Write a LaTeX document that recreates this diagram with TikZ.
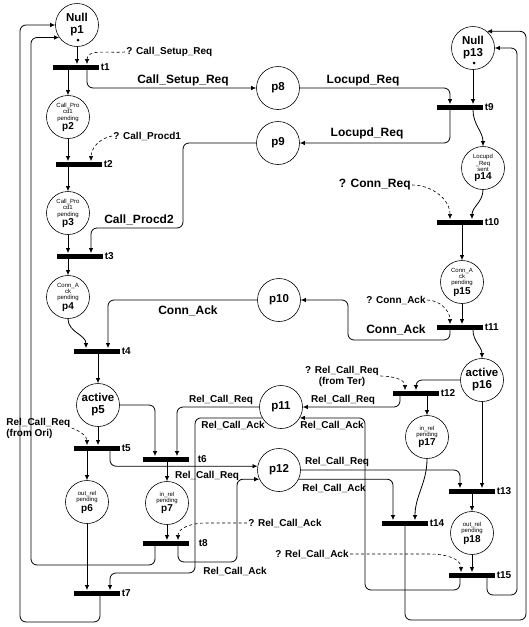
\documentclass[tikz,border=0pt]{standalone}
\usepackage{fontspec}
\setmainfont{Liberation Sans}
\usetikzlibrary{arrows.meta}
\newcommand{\pnum}[1]{{\bfseries\fontsize{10}{10}\selectfont #1}}

\begin{document}
\begin{tikzpicture}[>={Latex[length=5pt,width=4.5pt]}, x=10pt, y=-10pt, line width=0.8pt,
    place/.style={draw, circle, line width=0.6pt, minimum size=43pt, inner sep=0pt, align=center, font=\bfseries\fontsize{11.5}{12}\selectfont},
    pend/.style={place, font=\fontsize{6}{6.5}\selectfont},
    trans/.style={fill=black, minimum width=46pt, minimum height=5pt, inner sep=0pt},
    tname/.style={anchor=west, inner sep=1pt, font=\bfseries\fontsize{10}{10}\selectfont},
    msg/.style={inner sep=1pt, align=center, font=\bfseries\fontsize{10}{11}\selectfont},
    bigmsg/.style={inner sep=1pt, font=\bfseries\fontsize{12}{12}\selectfont},
    wire/.style={->, rounded corners=6pt},
    ask/.style={->, dash pattern=on 3pt off 2.5pt, line width=0.6pt}]
    \useasboundingbox (0,0) rectangle (52.8,62.7);

    % Places, originating side
    \node[place] (p1) at (7.7,2.5) {Null\\p1};
    \fill (p1.center) ++(0.1,1.5) circle (1.5pt);
    \node[pend] (p2) at (6.8,11.7) {Call\_Pro\\cd1\\pending\\ \pnum{p2}};
    \node[pend] (p3) at (6.8,21.3) {Call\_Pro\\cd1\\pending\\ \pnum{p3}};
    \node[pend] (p4) at (6.8,29.7) {Conn\_A\\ck\\pending\\ \pnum{p4}};
    \node[place] (p5) at (9.8,40.5) {active\\p5};
    \node[pend] (p6) at (8.7,50.2) {out\_rel\\pending\\ \pnum{p6}};
    \node[pend] (p7) at (16.7,50.3) {in\_rel\\pending\\ \pnum{p7}};

    % Channel places
    \node[place] (p8) at (27.8,8.8) {p8};
    \node[place] (p9) at (27.8,14.3) {p9};
    \node[place] (p10) at (27.9,30.0) {p10};
    \node[place] (p11) at (28.1,40.7) {p11};
    \node[place] (p12) at (27.9,47.0) {p12};

    % Places, terminating side
    \node[place] (p13) at (47.3,4.8) {Null\\p13};
    \fill (p13.center) ++(0.1,1.5) circle (1.5pt);
    \node[pend] (p14) at (48.3,16.8) {Locupd\\\_Req\\sent\\ \pnum{p14}};
    \node[pend] (p15) at (46.2,28.2) {Conn\_A\\ck\\pending\\ \pnum{p15}};
    \node[place] (p16) at (48.2,38.0) {active\\p16};
    \node[pend] (p17) at (42.7,43.7) {in\_rel\\pending\\ \pnum{p17}};
    \node[pend] (p18) at (47.2,53.3) {out\_rel\\pending\\ \pnum{p18}};

    % Transitions
    \node[trans] (t1) at (7.6,6.7) {};
    \node[trans] (t2) at (7.9,16.4) {};
    \node[trans] (t3) at (8.0,25.6) {};
    \node[trans] (t4) at (9.7,35.1) {};
    \node[trans] (t5) at (9.7,44.8) {};
    \node[trans] (t6) at (16.6,45.9) {};
    \node[trans] (t7) at (9.7,59.3) {};
    \node[trans] (t8) at (16.6,54.3) {};
    \node[trans] (t9) at (46.0,10.7) {};
    \node[trans] (t10) at (46.0,22.2) {};
    \node[trans] (t11) at (46.0,32.7) {};
    \node[trans] (t12) at (41.6,39.3) {};
    \node[trans] (t13) at (47.2,49.1) {};
    \node[trans] (t14) at (40.5,52.3) {};
    \node[trans] (t15) at (47.2,57.5) {};
    \foreach \t in {1,2,3,4,5,7,9,10,11,12,13,14,15}
        \node[tname] (t\t n) at (t\t.east) {t\t};
    \node[tname, xshift=7pt] (t6n) at (t6.east) {t6};
    \node[tname, xshift=8pt] (t8n) at (t8.east) {t8};

    % Message labels
    \node[msg, anchor=west] (q1) at (12.5,5.2) {? Call\_Setup\_Req};
    \node[bigmsg] (m1) at (18.3,8.0) {Call\_Setup\_Req};
    \node[msg, anchor=west] (q2) at (11.2,13.6) {? Call\_Procd1};
    \node[bigmsg] (m2) at (13.9,22.0) {Call\_Procd2};
    \node[bigmsg] (m3) at (18.8,31.1) {Conn\_Ack};
    \node[msg, anchor=west, align=left] (q6) at (0.5,42.8) {Rel\_Call\_Req\\(from Ori)};
    \node[msg] (m4) at (22.1,40.0) {Rel\_Call\_Req};
    \node[msg] (m5) at (23.3,42.5) {Rel\_Call\_Ack};
    \node[msg] (m6) at (20.7,47.6) {Rel\_Call\_Req};
    \node[msg, anchor=west] (q7) at (24.7,52.3) {? Rel\_Call\_Ack};
    \node[msg] (m7) at (23.5,57.1) {Rel\_Call\_Ack};
    \node[bigmsg] (m8) at (36.3,8.0) {Locupd\_Req};
    \node[bigmsg] (m9) at (36.7,13.3) {Locupd\_Req};
    \node[bigmsg, anchor=east] (q3) at (41.2,18.5) {? Conn\_Req};
    \node[msg, anchor=east] (q4) at (42.7,30.0) {? Conn\_Ack};
    \node[bigmsg] (m10) at (39.6,33.0) {Conn\_Ack};
    \node[msg] (q5) at (34.2,37.6) {? Rel\_Call\_Req\\(from Ter)};
    \node[msg] (m11) at (34.3,40.0) {Rel\_Call\_Req};
    \node[msg] (m12) at (33.2,42.5) {Rel\_Call\_Ack};
    \node[msg] (m13) at (33.7,46.2) {Rel\_Call\_Req};
    \node[msg] (m14) at (33.4,48.8) {Rel\_Call\_Ack};
    \node[msg, anchor=east] (q8) at (35.0,55.4) {? Rel\_Call\_Ack};

    % Corner points of the long arcs
    \coordinate (c9) at (18.3,22.8);
    \coordinate (c7) at (20.5,52.3);
    \coordinate (c8) at (23.7,56.2);
    \coordinate (c11) at (19.5,57.3);
    \coordinate (cL1) at (2.0,62.2);
    \coordinate (cL2) at (3.1,56.5);
    \coordinate (c10) at (34.8,34.0);
    \coordinate (c15) at (43.0,55.4);
    \coordinate (c15b) at (36.5,59.0);
    \coordinate (cR1) at (52.6,62.0);
    \coordinate (cR2) at (51.7,59.5);

    % Arcs, originating side
    \draw[->] (p1) -- (p1 |- t1.north);
    \draw[ask] (q1.west) to[out=185,in=90] ([xshift=11pt]t1.north);
    \draw[->] (p2 |- t1.south) -- (p2);
    \draw[wire] ([xshift=11pt]t1.south) |- (p8);
    \draw[->] (p2) -- (p2 |- t2.north);
    \draw[ask] (q2.west) to[out=190,in=90] ([xshift=12pt]t2.north);
    \draw[->] (p3 |- t2.south) -- (p3);
    \draw[->] (p3) -- (p3 |- t3.north);
    \draw[wire] (p9) -| (c9) -| ([xshift=11pt]t3.north);
    \draw[->] (p4 |- t3.south) -- (p4);
    \draw[->] (p4) to[out=-90,in=90] ([xshift=-11pt]t4.north);
    \draw[wire] (p10) -| ([xshift=11pt]t4.north);
    \draw[->] (p5 |- t4.south) -- (p5);
    \draw[->] (p5) -- (p5 |- t5.north);
    \draw[ask] (q6.east) to[out=-20,in=90] ([xshift=-10pt]t5.north);
    \draw[->] (p6 |- t5.south) -- (p6);
    \draw[wire] ([xshift=13pt]t5.south) |- (p12.170);
    \draw[wire] (p5) -| ([xshift=-11pt]t6.north);
    \draw[wire] (p11) -| ([xshift=11pt]t6.north);
    \draw[->] (p7 |- t6.south) -- (p7);
    \draw[->] (p7) -- (p7 |- t8.north);
    \draw[ask] (q7.west) -- (c7) to[out=180,in=90] ([xshift=12pt]t8.north);
    \draw[wire] ([xshift=-11pt]t8.south) |- (cL2) |- (p1.215);
    \draw[wire] ([xshift=12pt]t8.south) |- (c8) |- (p12.205);
    \draw[wire] (p11.210) -| (c11) -| ([xshift=13pt]t7.north);
    \draw[->] (p6) -- (p6 |- t7.north);
    \draw[wire] ([xshift=3pt]t7.south) |- (cL1) |- (p1);

    % Arcs, terminating side
    \draw[wire] (p8) -| ([xshift=-10pt]t9.north);
    \draw[->] (p13) -- (p13 |- t9.north);
    \draw[wire] ([xshift=-10pt]t9.south) |- (p9);
    \draw[->] ([xshift=13pt]t9.south) to[out=-90,in=90] (p14);
    \draw[ask] (q3.east) to[out=0,in=90] ([xshift=-10pt]t10.north);
    \draw[->] (p14) to[out=-90,in=90] ([xshift=12pt]t10.north);
    \draw[->] (p15 |- t10.south) -- (p15);
    \draw[->] (p15) -- (p15 |- t11.north);
    \draw[ask] (q4.east) to[out=0,in=90] ([xshift=-10pt]t11.north);
    \draw[wire] ([xshift=-10pt]t11.south) |- (c10) |- (p10);
    \draw[->] ([xshift=13pt]t11.south) to[out=-90,in=90] (p16);
    \draw[wire] (p16) -| (t12.north);
    \draw[ask] (q5.east) to[out=0,in=90] ([xshift=-11pt]t12.north);
    \draw[wire] ([xshift=-16pt]t12.south) |- (p11);
    \draw[->] (p17 |- t12.south) -- (p17);
    \draw[wire] (p12) -| ([xshift=-12pt]t13.north);
    \draw[->] (p16) -- (p16 |- t13.north);
    \draw[wire] (p12.-25) -| ([xshift=-12pt]t14.north);
    \draw[->] (p17) to[out=-90,in=90] ([xshift=10pt]t14.north);
    \draw[->] (p18 |- t13.south) -- (p18);
    \draw[->] (p18) -- (p18 |- t15.north);
    \draw[ask] (q8.east) -- (c15) to[out=0,in=90] ([xshift=-11pt]t15.north);
    \draw[wire] ([xshift=-12pt]t15.south) |- (c15b) |- (p11.-30);
    \draw[wire] ([xshift=15pt]t15.south) |- (cR2) |- (p13);
    \draw[wire] (t14.south) |- (cR1) |- (p13.50);
\end{tikzpicture}
\end{document}
